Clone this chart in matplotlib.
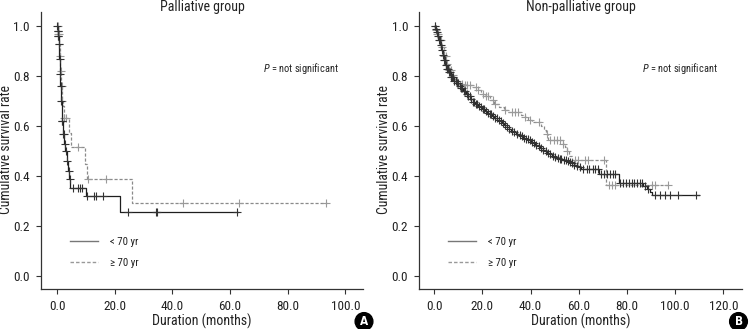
import numpy as np
import matplotlib
matplotlib.use("Agg")
import matplotlib.pyplot as plt
from matplotlib.lines import Line2D
from matplotlib import font_manager

names = {f.name for f in font_manager.fontManager.ttflist}
cond = [n for n in ['Liberation Sans Narrow', 'DejaVu Sans Condensed', 'Roboto Condensed', 'Open Sans Condensed']
        if n in names]
plt.rcParams['font.family'] = cond + ['DejaVu Sans']
plt.rcParams['font.stretch'] = 'condensed'

# ---------------- data ----------------
titles = ["Palliative group", "Non-palliative group"]
legend_labels = ["< 70 yr", "\u2265 70 yr"]
p_text = "$\\it{P}$ = not significant"
panel_letters = ["A", "B"]

# Palliative group, < 70 yr
pal_young_t = [0, 0.2, 0.4, 0.6, 0.8, 1.0, 1.2, 1.4, 1.6, 2.0, 2.4, 2.8, 3.3, 3.9, 4.2, 4.6, 10.0, 22.0, 62.7]
pal_young_s = [1.0, 0.98, 0.96, 0.93, 0.87, 0.81, 0.76, 0.70, 0.62, 0.57, 0.53, 0.50, 0.46, 0.42, 0.39, 0.353, 0.321, 0.258, 0.258]
pal_young_c = [0.1, 0.2, 0.3, 0.45, 0.5, 0.65, 0.9, 1.1, 1.3, 1.5, 1.7, 1.85, 2.1, 2.3, 2.6, 3.0, 3.5, 4.0, 4.4,
               5.5, 7.3, 8.0, 8.7, 10.5, 12.8, 13.5, 16.0, 24.5, 34.4, 34.7, 62.5]
# Palliative group, >= 70 yr
pal_old_t = [0, 0.3, 0.6, 0.9, 1.2, 1.5, 1.8, 2.0, 2.3, 4.2, 4.8, 9.8, 10.3, 25.9, 93.5]
pal_old_s = [1.0, 0.97, 0.93, 0.88, 0.82, 0.76, 0.70, 0.68, 0.633, 0.574, 0.516, 0.45, 0.387, 0.292, 0.292]
pal_old_c = [0.2, 0.4, 0.55, 0.7, 1.0, 1.3, 1.6, 1.9, 2.5, 3.0, 7.4, 10.9, 17.0, 43.8, 63.0, 93.3]

# Non-palliative group, < 70 yr
np_young_t = [0, 0.5, 1, 1.5, 2, 2.5, 3, 3.5, 4, 4.5, 5, 6, 7, 8, 9, 10, 11, 12, 13, 14, 15, 16, 17, 18, 19, 20,
              21, 22, 23, 24, 25, 26, 27, 28, 29, 30, 31, 32, 33, 34, 35, 36, 37, 38, 39, 40, 41, 42, 43, 44, 45,
              46, 47, 48, 49, 50, 51, 52, 53, 54, 55, 56, 57, 58, 59, 60, 61, 68.5, 76.5, 86.8, 88.3, 89.5, 90.3, 110]
np_young_s = [1.0, 0.99, 0.975, 0.96, 0.945, 0.925, 0.905, 0.885, 0.865, 0.845, 0.83, 0.815, 0.795, 0.782, 0.772,
              0.762, 0.752, 0.742, 0.73, 0.72, 0.708, 0.698, 0.69, 0.682, 0.675, 0.668, 0.66, 0.653, 0.647, 0.641,
              0.634, 0.626, 0.619, 0.612, 0.605, 0.598, 0.59, 0.582, 0.576, 0.57, 0.564, 0.559, 0.554, 0.549, 0.544,
              0.538, 0.532, 0.526, 0.519, 0.513, 0.506, 0.499, 0.493, 0.487, 0.482, 0.477, 0.473, 0.469, 0.466,
              0.463, 0.46, 0.456, 0.451, 0.445, 0.44, 0.435, 0.43, 0.41, 0.374, 0.36, 0.347, 0.335, 0.325, 0.325]
np_young_c = [0.3, 0.8, 1.2, 1.7, 2.1, 2.4, 2.9, 3.3, 3.6, 4.1, 4.4, 4.9, 5.3, 5.7, 6.2, 6.6, 7.1, 7.4, 7.8, 8.3,
              8.9, 9.4, 9.8, 10.6, 11.2, 11.7, 12.4, 12.9, 13.6, 14.1, 14.8, 15.3, 16.1, 16.6, 17.4, 17.9, 18.7,
              19.3, 20.2, 20.8, 21.5, 22.3, 23.1, 23.6, 24.4, 25.2, 25.9, 26.7, 27.6, 28.4, 29.3, 30.1, 31.2,
              32.1, 33.3, 34.2, 35.4, 36.3, 37.2, 38.1, 38.8, 39.6, 40.7, 41.5, 42.3, 43.4, 44.1, 45.2, 46.3,
              47.1, 48.0, 49.2, 50.1, 51.3, 52.0, 52.8, 53.7, 54.6, 55.5, 56.4, 57.3, 58.1, 59.4, 60.5, 61.8,
              63.2, 64.4, 65.7, 66.9, 68.1, 69.4, 70.6, 71.8, 72.9, 74.2, 75.1, 77.3, 78.5, 79.6, 80.8, 81.9,
              83.1, 84.2, 85.4, 86.2, 87.4, 88.8, 91.6, 93.7, 95.7, 97.8, 101.2, 108.8]
# Non-palliative group, >= 70 yr
np_old_t = [0, 0.5, 1, 2, 3, 4, 5, 6, 7, 8, 9, 10, 12, 16, 18, 19.5, 21, 23, 25, 27, 29, 30.5, 36, 37.5, 39,
            40.5, 44.5, 45.5, 46.5, 47.3, 53.6, 54.3, 55, 55.8, 57, 71.2, 97.7]
np_old_s = [1.0, 0.985, 0.97, 0.945, 0.915, 0.88, 0.85, 0.825, 0.805, 0.79, 0.78, 0.77, 0.765, 0.755, 0.745,
            0.73, 0.72, 0.705, 0.69, 0.676, 0.665, 0.656, 0.645, 0.635, 0.625, 0.616, 0.60, 0.585, 0.57, 0.546,
            0.53, 0.515, 0.50, 0.48, 0.463, 0.363, 0.363]
np_old_c = [0.2, 0.6, 1.0, 1.5, 2.2, 2.7, 3.4, 4.0, 4.7, 5.4, 6.1, 6.9, 7.6, 8.4, 9.3, 11.4, 12.6, 13.4, 15.0,
            17.2, 18.3, 20.1, 21.3, 22.4, 24.3, 25.2, 29.3, 32.1, 33.5, 34.6, 37.7, 39.6, 43.6, 46.6, 48.1,
            49.5, 50.9, 52.2, 53.6, 55.0, 58.4, 59.6, 62.6, 63.8, 70.6, 72.4, 73.8, 75.2, 90.2, 91.5, 97.2]

panels = [
    dict(young=(pal_young_t, pal_young_s, pal_young_c), old=(pal_old_t, pal_old_s, pal_old_c),
         xticks=[0, 20, 40, 60, 80, 100], xlim=(-5.55, 106.1), ptx=71.4),
    dict(young=(np_young_t, np_young_s, np_young_c), old=(np_old_t, np_old_s, np_old_c),
         xticks=[0, 20, 40, 60, 80, 100, 120], xlim=(-6.2, 127.6), ptx=86.1),
]

# ---------------- figure ----------------
W, H = 750, 329
fig = plt.figure(figsize=(W / 100, H / 100), dpi=100)
axes_px = [(41, 12, 363, 289), (419.3, 12, 741.7, 289)]
ylabel_x = [6.0, 384.0]

young_col = '#1e1e1e'
young_mark = '#333333'
old_col = '#8a8a8a'
old_mark = '#9a9a9a'
txt_col = '#222222'


def surv_at(t, s, c):
    idx = np.searchsorted(np.asarray(t), np.asarray(c), side='right') - 1
    return np.asarray(s)[idx]


for i, (p, (x0, y0, x1, y1)) in enumerate(zip(panels, axes_px)):
    ax = fig.add_axes([x0 / W, 1 - y1 / H, (x1 - x0) / W, (y1 - y0) / H])
    for key, col, mcol, ls in [('old', old_col, old_mark, (0, (2.5, 1.5))), ('young', young_col, young_mark, '-')]:
        t, s, c = p[key]
        ax.plot(t, s, drawstyle='steps-post', color=col, lw=0.9, ls=ls, zorder=3 if key == 'young' else 2)
        ax.plot(c, surv_at(t, s, c), ls='none', marker='+', ms=6, mew=0.8, color=mcol,
                zorder=3 if key == 'young' else 2)
    ax.set_xlim(*p['xlim'])
    ax.set_ylim(-0.052, 1.056)
    ax.set_xticks(p['xticks'])
    ax.set_xticklabels([f"{v:.1f}" for v in p['xticks']])
    ax.set_yticks([0, 0.2, 0.4, 0.6, 0.8, 1.0])
    ax.set_yticklabels([f"{v:.1f}" for v in [0, 0.2, 0.4, 0.6, 0.8, 1.0]])
    for sp in ['top', 'right']:
        ax.spines[sp].set_visible(False)
    for sp in ['left', 'bottom']:
        ax.spines[sp].set_color('#333333')
        ax.spines[sp].set_linewidth(0.9)
    ax.tick_params(direction='out', length=3.5, width=0.8, color='#333333', labelsize=9.5,
                   labelcolor=txt_col, pad=4.5)
    cx = (x0 + x1) / 2
    fig.text(cx / W, 1 - 7 / H, titles[i], fontsize=10, color=txt_col, ha='center', va='center')
    fig.text(cx / W, 1 - 321 / H, "Duration (months)", fontsize=10, color=txt_col, ha='center', va='center')
    fig.text(ylabel_x[i] / W, 1 - 150 / H, "Cumulative survival rate", fontsize=9.8, color=txt_col,
             ha='center', va='center', rotation=90)
    ax.text(p['ptx'], 0.832, p_text, fontsize=7.5, color=txt_col, va='center', ha='left')
    handles = [Line2D([], [], color='#777777', lw=1.0),
               Line2D([], [], color='#999999', lw=1.0, ls=(0, (2.5, 1.5)))]
    leg = ax.legend(handles, legend_labels, loc='center left',
                    bbox_to_anchor=(0.09, 0.132), frameon=False,
                    fontsize=7.8, handlelength=2.6, handletextpad=1.1, labelspacing=1.05,
                    borderpad=0, borderaxespad=0)
    for txt in leg.get_texts():
        txt.set_color(txt_col)

# panel letters
for letter, xc in zip(panel_letters, [364, 738.5]):
    fig.text(xc / W, 1 - 321.5 / H, letter, ha='center', va='center', fontsize=8.5, fontweight='bold',
             color='white', family='DejaVu Sans',
             bbox=dict(boxstyle='circle,pad=0.2', fc='black', ec='black'))

fig.savefig('out.png', dpi=100)
